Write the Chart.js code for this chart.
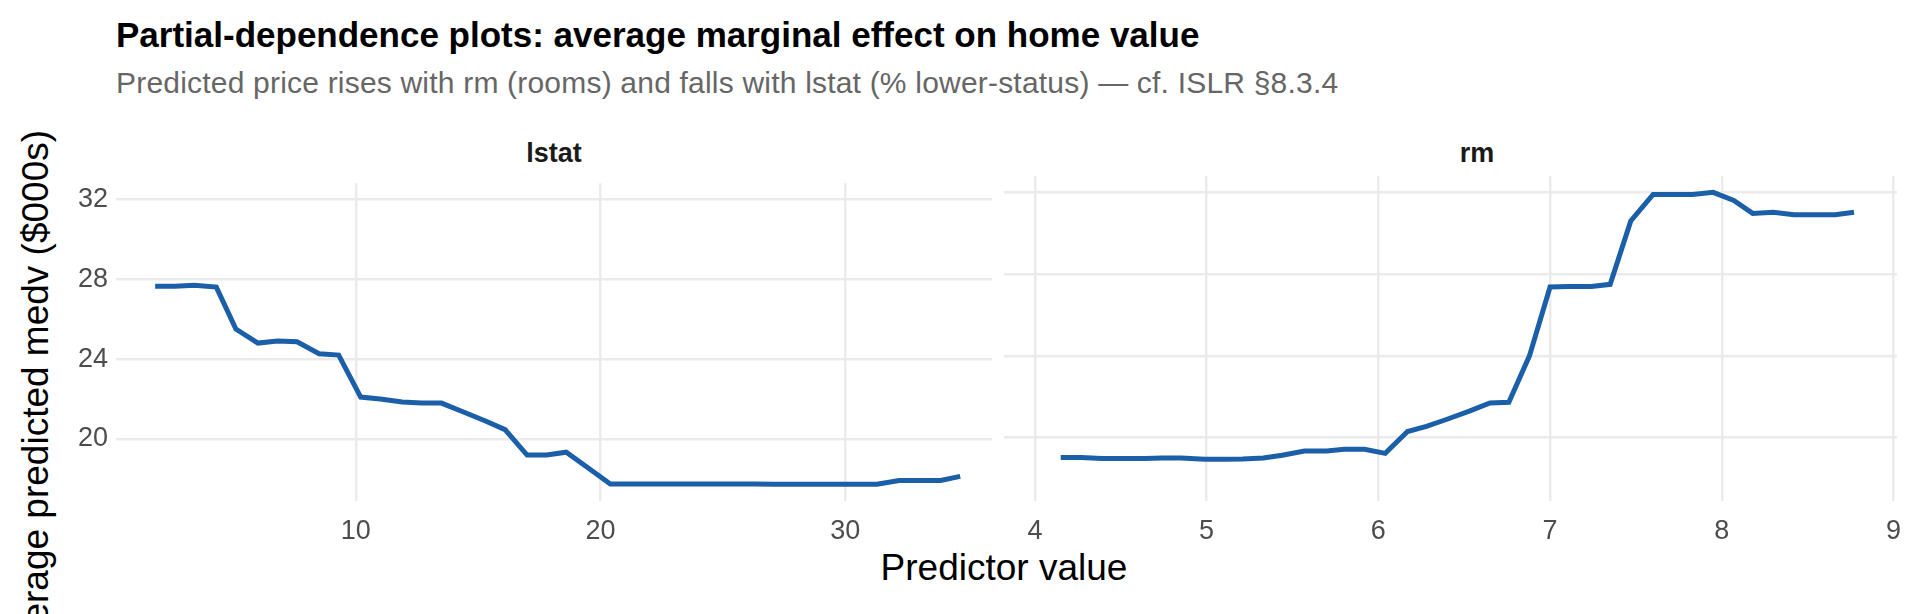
<!DOCTYPE html>
<html lang="en">
<head>
  <meta charset="UTF-8" />
  <title>Partial dependence</title>
  <script src="https://cdn.jsdelivr.net/npm/chart.js"></script>
  <style>
    body { margin: 0; width: 1920px; height: 614px; background: #fff; font-family: "Liberation Sans", Arial, sans-serif; position: relative; overflow: hidden; }
    .t { position: absolute; white-space: nowrap; }
    #title { left: 116px; top: 15px; font-size: 35px; font-weight: bold; color: #000; }
    #sub { left: 116px; top: 66px; font-size: 30px; letter-spacing: 0.2px; color: #666; }
    .facet { top: 138px; font-size: 27px; font-weight: bold; color: #1a1a1a; transform: translateX(-50%); }
    #xt { left: 1004px; top: 547px; font-size: 37px; color: #000; transform: translateX(-50%); }
    #yt { left: 36px; top: 398px; font-size: 37px; color: #000; transform: translate(-50%, -50%) rotate(-90deg); }
    .wrap { position: absolute; }
  </style>
</head>
<body>
  <div class="t" id="title">Partial-dependence plots: average marginal effect on home value</div>
  <div class="t" id="sub">Predicted price rises with rm (rooms) and falls with lstat (% lower-status) — cf. ISLR §8.3.4</div>
  <div class="t facet" style="left:554px">lstat</div>
  <div class="t facet" style="left:1477px">rm</div>
  <div class="t" id="xt">Predictor value</div>
  <div class="t" id="yt">Average predicted medv ($000s)</div>
  <div class="wrap" style="left:48px;top:159px;width:944px;height:392px"><canvas id="c1"></canvas></div>
  <div class="wrap" style="left:1004px;top:176px;width:911px;height:375px"><canvas id="c2"></canvas></div>

  <script>
    const lstatX = [1.8, 2.6, 3.4, 4.3, 5.1, 6.0, 6.8, 7.6, 8.5, 9.3, 10.2, 11.0, 11.9, 12.7, 13.5, 14.4, 15.3, 16.1, 17.0, 17.8, 18.6, 19.5, 20.4, 21.2, 22.1, 22.9, 23.7, 24.6, 25.4, 26.3, 27.1, 27.9, 28.8, 29.6, 30.5, 31.3, 32.2, 33.0, 33.9, 34.7];
    const lstatY = [27.65, 27.65, 27.7, 27.6, 25.5, 24.8, 24.9, 24.87, 24.27, 24.2, 22.1, 22.0, 21.85, 21.8, 21.8, 21.35, 20.9, 20.47, 19.2, 19.2, 19.34, 18.55, 17.75, 17.75, 17.75, 17.75, 17.75, 17.75, 17.75, 17.75, 17.74, 17.74, 17.74, 17.74, 17.74, 17.74, 17.93, 17.93, 17.93, 18.13];
    const rmX = [4.15, 4.27, 4.39, 4.51, 4.64, 4.74, 4.85, 4.99, 5.10, 5.21, 5.33, 5.44, 5.57, 5.70, 5.80, 5.92, 6.04, 6.17, 6.28, 6.40, 6.53, 6.65, 6.76, 6.88, 7.0, 7.11, 7.24, 7.35, 7.47, 7.60, 7.71, 7.83, 7.95, 8.07, 8.18, 8.30, 8.42, 8.54, 8.66, 8.77];
    const rmY = [19.03, 19.03, 18.98, 18.98, 18.98, 19.0, 19.0, 18.94, 18.94, 18.95, 19.0, 19.14, 19.35, 19.35, 19.43, 19.43, 19.23, 20.3, 20.55, 20.9, 21.3, 21.7, 21.73, 24.0, 27.37, 27.4, 27.4, 27.5, 30.6, 31.9, 31.9, 31.9, 32.0, 31.6, 30.97, 31.03, 30.9, 30.9, 30.9, 31.03];
    const yTicks = [20, 24, 28, 32];
    const lstatTicks = [10, 20, 30];
    const rmTicks = [4, 5, 6, 7, 8, 9];

    const grid = '#ebebeb';
    const tickFont = { family: 'Liberation Sans, Arial, sans-serif', size: 27 };

    function makeChart(id, xs, ys, xTicks, xMin, xMax, showY) {
      const pts = xs.map((x, i) => ({ x: x, y: ys[i] }));
      return new Chart(document.getElementById(id), {
        type: 'line',
        data: { datasets: [{ data: pts, borderColor: '#1b5fa8', borderWidth: 5, pointRadius: 0, fill: false, tension: 0, clip: false }] },
        options: {
          responsive: true,
          maintainAspectRatio: false,
          animation: false,
          layout: { padding: 0 },
          plugins: { legend: { display: false }, tooltip: { enabled: false } },
          scales: {
            x: {
              type: 'linear', min: xMin, max: xMax,
              afterBuildTicks: s => { s.ticks = xTicks.map(v => ({ value: v })); },
              afterFit: s => { s.height = 50; },
              grid: { color: grid, lineWidth: 2.5, drawTicks: false },
              border: { display: false },
              ticks: { color: '#4d4d4d', font: tickFont, padding: 14, maxRotation: 0 }
            },
            y: {
              min: 16.9, max: 32.8,
              afterBuildTicks: s => { s.ticks = yTicks.map(v => ({ value: v })); },
              afterFit: s => { s.width = showY ? 68 : 0; },
              grid: { color: grid, lineWidth: 2.5, drawTicks: false },
              border: { display: false },
              ticks: { display: showY, color: '#4d4d4d', font: tickFont, padding: 8 }
            }
          }
        }
      });
    }

    makeChart('c1', lstatX, lstatY, lstatTicks, 0.2, 36, true);
    makeChart('c2', rmX, rmY, rmTicks, 3.82, 9.02, false);
  </script>
</body>
</html>
